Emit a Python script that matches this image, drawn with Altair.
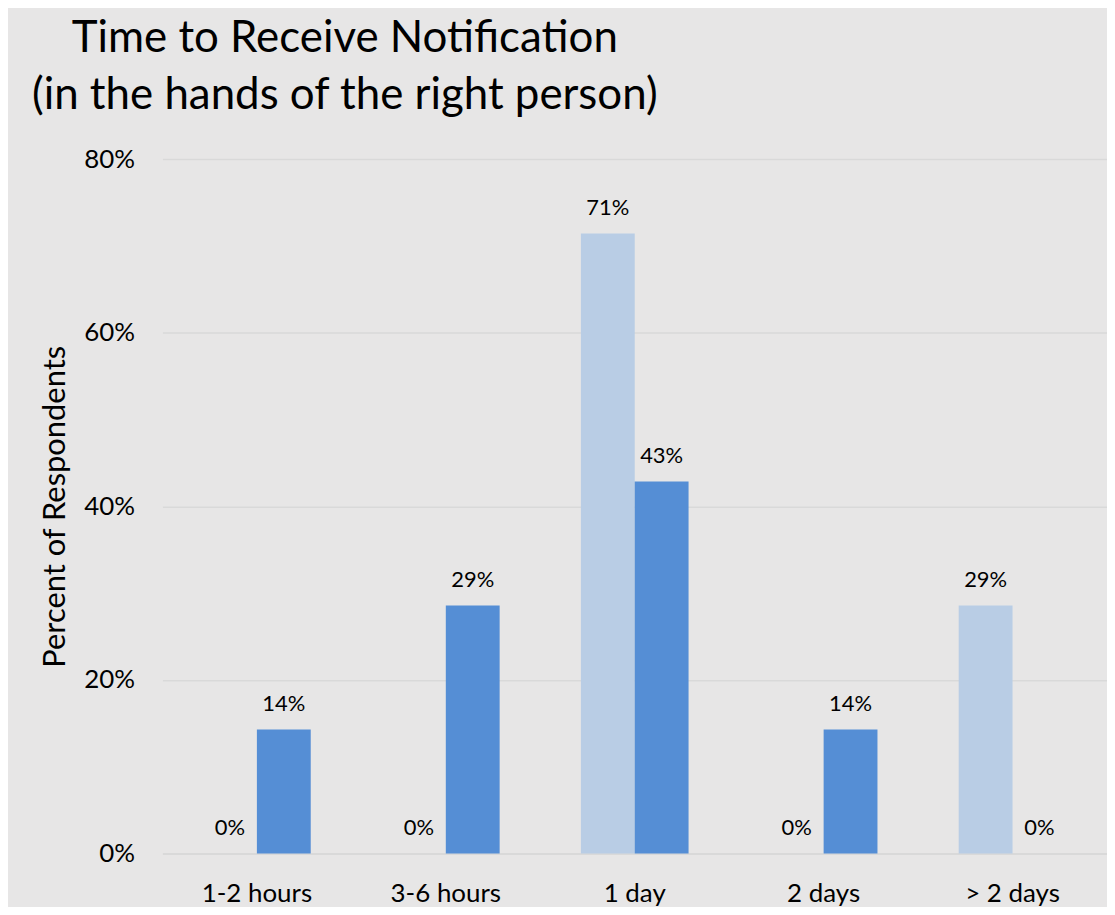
import altair as alt
import pandas as pd

categories = ["1-2 hours", "3-6 hours", "1 day", "2 days", "> 2 days"]
series_names = ["Series 1", "Series 2"]
series1 = [0.0, 0.0, 0.7143, 0.0, 0.2857]
series2 = [0.1429, 0.2857, 0.4286, 0.1429, 0.0]
y_ticks = [0, 0.2, 0.4, 0.6, 0.8]
colors = ["#B9CDE5", "#558ED5"]

rows = []
for c, a, b in zip(categories, series1, series2):
    rows.append({"cat": c, "series": series_names[0], "value": a})
    rows.append({"cat": c, "series": series_names[1], "value": b})
df = pd.DataFrame(rows)

FONT = "Lato"

x_enc = alt.X(
    "cat:N",
    sort=categories,
    scale=alt.Scale(paddingInner=0.43, paddingOuter=0.215),
    axis=alt.Axis(
        title=None,
        labelAngle=0,
        labelFont=FONT,
        labelFontSize=26,
        labelColor="#000000",
        labelPadding=27,
        ticks=False,
        domainColor="#D9D9D9",
        domainWidth=1.5,
        grid=False,
    ),
)
xoff_enc = alt.XOffset("series:N", sort=series_names, scale=alt.Scale(paddingInner=0, paddingOuter=0))
y_enc = alt.Y(
    "value:Q",
    scale=alt.Scale(domain=[0, 0.8], nice=False),
    axis=alt.Axis(
        values=y_ticks,
        format=".0%",
        title="Percent of Respondents",
        titleFont=FONT,
        titleFontSize=31,
        titleFontWeight="normal",
        titleColor="#000000",
        titlePadding=12,
        labelFont=FONT,
        labelFontSize=26,
        labelColor="#000000",
        labelPadding=28,
        ticks=False,
        domain=False,
        gridColor="#D9D9D9",
        gridWidth=1.5,
    ),
)
color_enc = alt.Color("series:N", sort=series_names, scale=alt.Scale(domain=series_names, range=colors), legend=None)

bars = alt.Chart(df).mark_bar().encode(x=x_enc, xOffset=xoff_enc, y=y_enc, color=color_enc)
labels = alt.Chart(df).mark_text(
    font=FONT, fontSize=22, color="#000000", baseline="alphabetic", dy=-19
).encode(
    x=alt.X("cat:N", sort=categories),
    xOffset=alt.XOffset("series:N", sort=series_names),
    y=alt.Y("value:Q"),
    text=alt.Text("value:Q", format=".0%"),
)

chart = (
    alt.layer(bars, labels)
    .properties(
        width=948,
        height=697,
        autosize=alt.AutoSizeParams(type="none"),
        padding={"left": 155, "top": 150, "right": 0, "bottom": 52},
        title=alt.TitleParams(
            text=["Time to Receive Notification", "(in the hands of the right person)"],
            anchor="start",
            align="center",
            dx=183,
            frame="group",
            font=FONT,
            fontSize=44,
            fontWeight="normal",
            lineHeight=57,
            color="#000000",
            offset=28,
        ),
    )
    .configure(background="#E7E6E6")
    .configure_view(stroke=None)
)

chart.save("out.html", embed_options={"renderer": "svg", "actions": False})
